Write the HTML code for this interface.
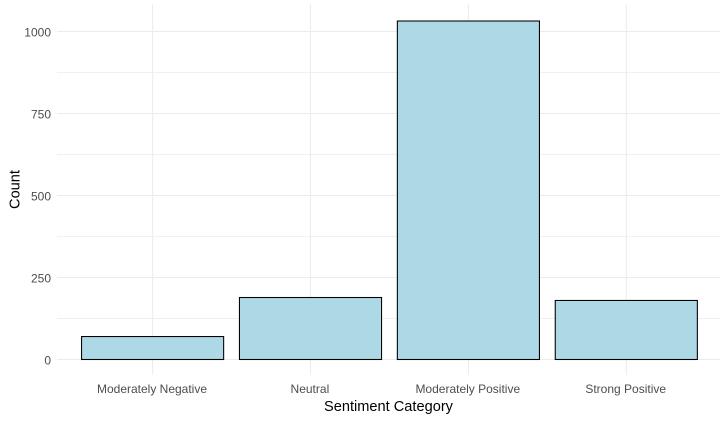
<!DOCTYPE html>
<html>
<head>
<meta charset="utf-8">
<title>Sentiment Category Counts</title>
<style>
html,body{margin:0;padding:0;background:#fff;}
svg{display:block;font-family:"Liberation Sans",Arial,sans-serif;}
</style>
</head>
<body>
<svg id="chart" width="728" height="421" viewBox="0 0 728 421" xmlns="http://www.w3.org/2000/svg"></svg>
<script>
const categories = ["Moderately Negative", "Neutral", "Moderately Positive", "Strong Positive"];
const counts = [70, 189, 1032, 180];
const majorTicks = [0, 250, 500, 750, 1000];
const minorTicks = [125, 375, 625, 875];
const yAxisTitle = "Count";
const xAxisTitle = "Sentiment Category";

const svg = document.getElementById('chart');
const NS = 'http://www.w3.org/2000/svg';
const panel = {left: 57, right: 720, top: 4, bottom: 375};
const xCenter = i => 152.6 + i * 157.9;
const bandWidth = 142.1;
const y = v => 359.5 - v * 0.328;

function make(tag, attrs, text) {
  const el = document.createElementNS(NS, tag);
  for (const k in attrs) el.setAttribute(k, attrs[k]);
  if (text !== undefined) el.textContent = text;
  svg.appendChild(el);
  return el;
}

minorTicks.forEach(t => {
  const el = make('line', {x1: panel.left, x2: panel.right, y1: y(t), y2: y(t), stroke: '#ebebeb', 'stroke-width': 0.8});
  
  
});
majorTicks.forEach(t => {
  const el = make('line', {x1: panel.left, x2: panel.right, y1: y(t), y2: y(t), stroke: '#ebebeb', 'stroke-width': 1});
  
  
});
categories.forEach((c, i) => {
  const el = make('line', {x1: xCenter(i), x2: xCenter(i), y1: panel.top, y2: panel.bottom, stroke: '#ebebeb', 'stroke-width': 1});
  
  
});

counts.forEach((v, i) => {
  const el = make('rect', {
    x: xCenter(i) - bandWidth / 2, y: y(v),
    width: bandWidth, height: y(0) - y(v),
    fill: '#add8e6', stroke: '#000', 'stroke-width': 1.07
  });
  
  
});

majorTicks.forEach(t => {
  const el = make('text', {x: 51, y: y(t) + 5, 'text-anchor': 'end', 'font-size': 12, fill: '#4d4d4d'}, String(t));
  
  
});
categories.forEach((c, i) => {
  const el = make('text', {x: xCenter(i) - 0.6, y: 393, 'text-anchor': 'middle', 'font-size': 12, fill: '#4d4d4d'}, c);
  
  
});

const xt = make('text', {x: 388.5, y: 411, 'text-anchor': 'middle', 'font-size': 14.6, fill: '#000'}, xAxisTitle);



const yt = make('text', {x: 0, y: 0, transform: 'translate(19.5,189.5) rotate(-90)', 'text-anchor': 'middle', 'font-size': 14.6, fill: '#000'}, yAxisTitle);


</script>
</body>
</html>
